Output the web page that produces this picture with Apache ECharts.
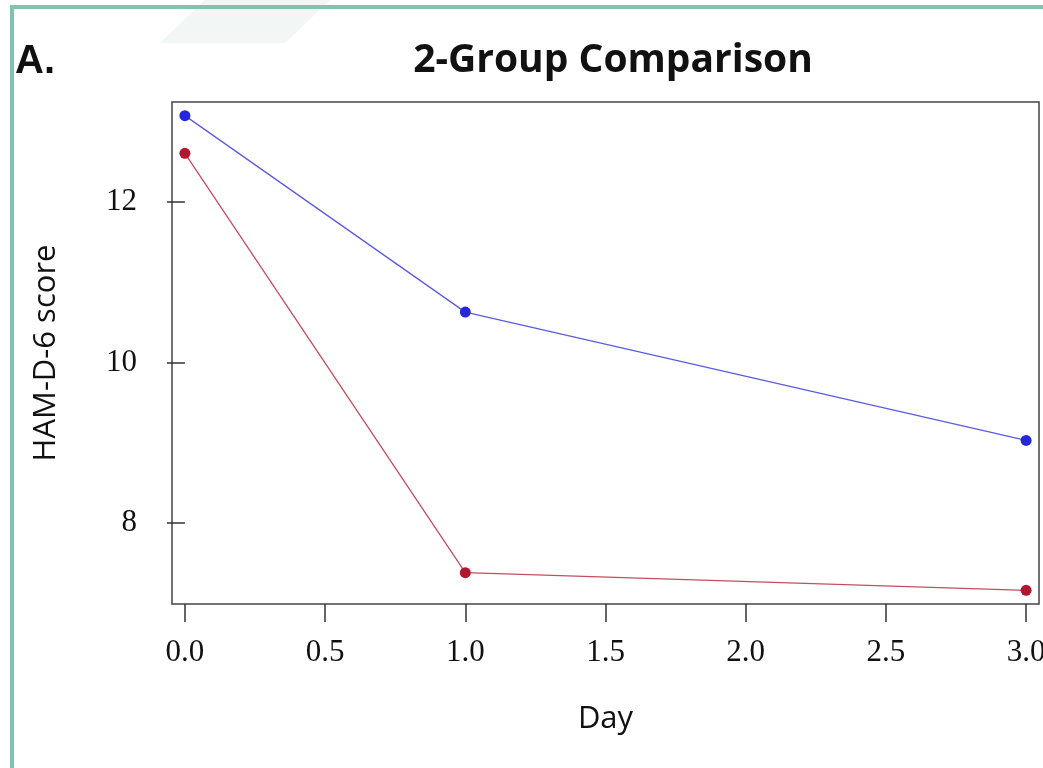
<!DOCTYPE html>
<html>
<head>
<meta charset="utf-8">
<script src="https://cdn.jsdelivr.net/npm/echarts@6/dist/echarts.min.js"></script>
<style>
  html, body { margin: 0; padding: 0; background: #fff; }
  #chart { width: 1043px; height: 768px; }
</style>
</head>
<body>
<div id="chart"></div>
<script>
// data
const days = [0, 1, 3];
const groupBlue = [13.08, 10.63, 9.03];
const groupRed = [12.61, 7.38, 7.16];
const xTicks = [0, 0.5, 1, 1.5, 2, 2.5, 3];
const yTicks = [8, 10, 12];

const pairs = (vals) => days.map((d, i) => [d, vals[i]]);

const chart = echarts.init(document.getElementById("chart"));
chart.setOption({
  backgroundColor: "#fff",
  animation: false,
  title: {
    text: "2-Group Comparison",
    left: 608,
    textAlign: "center",
    top: 36,
    textStyle: { fontFamily: "Open Sans", fontWeight: "bold", fontSize: 39, color: "#111" }
  },
  graphic: [
    // faint watermark band
    { type: "polygon", shape: { points: [[205, 0], [330, 0], [285, 43], [160, 43]] },
      style: { fill: "#f2f6f5" }, silent: true },
    // frame border
    { type: "rect", shape: { x: 10, y: 5, width: 1040, height: 4 }, style: { fill: "#7fc4ab" } },
    { type: "rect", shape: { x: 10, y: 5, width: 4, height: 770 }, style: { fill: "#7fc4ab" } },
    { type: "text", left: 15, top: 42,
      style: { text: "A.", font: "bold 40px 'Liberation Sans'", fill: "#111" } }
  ],
  grid: {
    left: 172, right: 4, top: 102, bottom: 164,
    outerBoundsMode: "none",
    containLabel: false,
    show: true, borderColor: "#444", borderWidth: 1.5, backgroundColor: "transparent"
  },
  xAxis: {
    type: "value",
    min: -0.046, max: 3.046,
    name: "Day",
    nameLocation: "middle",
    nameGap: 100,
    nameTextStyle: { fontFamily: "Open Sans", fontSize: 31, color: "#111" },
    axisLine: { show: false },
    splitLine: { show: false },
    axisTick: { show: true, length: 18, lineStyle: { color: "#333", width: 1.5 }, customValues: xTicks },
    axisLabel: {
      customValues: xTicks, margin: 33,
      formatter: (v) => v.toFixed(1),
      fontFamily: "Liberation Serif", fontSize: 31, color: "#111"
    }
  },
  yAxis: {
    type: "value",
    min: 6.99, max: 13.25,
    name: "HAM-D-6 score",
    nameLocation: "middle",
    nameGap: 110,
    nameTextStyle: { fontFamily: "Open Sans", fontSize: 31, color: "#111" },
    axisLine: { show: false },
    splitLine: { show: false },
    axisTick: { show: true, length: 18, lineStyle: { color: "#333", width: 1.5 }, customValues: yTicks },
    axisLabel: {
      customValues: yTicks, margin: 35,
      fontFamily: "Liberation Serif", fontSize: 31, color: "#111"
    }
  },
  series: [
    {
      type: "line",
      data: pairs(groupBlue),
      symbol: "circle", symbolSize: 11,
      lineStyle: { color: "#5b5be6", width: 1.3 },
      itemStyle: { color: "#2626dc" }
    },
    {
      type: "line",
      data: pairs(groupRed),
      symbol: "circle", symbolSize: 11,
      lineStyle: { color: "#c24f5f", width: 1.3 },
      itemStyle: { color: "#b3162f" }
    }
  ]
});
</script>
</body>
</html>
